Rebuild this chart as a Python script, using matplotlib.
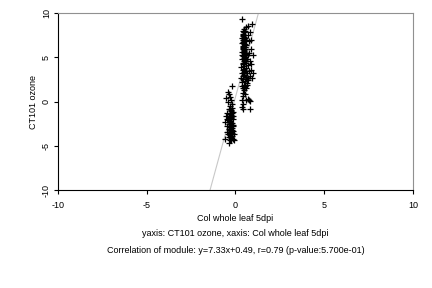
import matplotlib
matplotlib.use("Agg")
import matplotlib.pyplot as plt
import numpy as np

# upper cluster
x_up = [0.40, 0.45, 0.50, 0.55, 0.42, 0.48, 0.38, 0.52, 0.44, 0.58, 0.36, 0.47, 0.53, 0.41, 0.60,
        0.46, 0.35, 0.50, 0.56, 0.39, 0.44, 0.52, 0.62, 0.37, 0.48, 0.57, 0.66, 0.42, 0.50, 0.60,
        0.70, 0.34, 0.45, 0.55, 0.65, 0.75, 0.38, 0.48, 0.58, 0.68, 0.80, 0.33, 0.43, 0.53, 0.63,
        0.73, 0.36, 0.46, 0.56, 0.66, 0.40, 0.50, 0.60, 0.45, 0.35, 0.55, 0.40, 0.62, 0.70, 0.78,
        0.82, 0.36, 0.42, 0.37, 0.45, 0.82,
        0.38, 0.60, 0.68, 0.95, 0.82, 0.70, 0.75, 0.90, 0.85, 1.00, 0.75, 0.90, 1.00, 0.92, 0.85,
        0.72, 0.80, 0.50, 0.42, 0.55, 0.47, 0.43, 0.51, 0.49, 0.41, 0.54,
        0.44, 0.49, 0.52, 0.46, 0.43, 0.50, 0.47, 0.53, 0.45, 0.48, 0.51, 0.44, 0.58, 0.62, 0.55]
y_up = [7.6, 7.4, 7.8, 7.2, 7.0, 6.8, 6.6, 6.5, 6.3, 6.9, 7.2, 7.9, 6.1, 6.0, 6.4,
        5.8, 5.6, 5.5, 5.9, 5.3, 5.1, 5.0, 5.4, 4.8, 4.6, 4.4, 4.8, 4.2, 4.0, 3.8,
        4.1, 3.9, 3.6, 3.4, 3.2, 3.5, 3.2, 3.0, 2.8, 2.6, 2.9, 2.7, 2.5, 2.3, 2.1,
        2.4, 2.2, 1.9, 1.7, 1.9, 1.5, 1.3, 1.5, 1.0, 1.7, 0.9, 0.6, 0.2, 0.3, 0.2,
        0.1, 0.2, -0.3, -0.6, -0.8, -0.9,
        9.3, 8.4, 8.5, 8.7, 7.9, 7.5, 6.8, 6.9, 5.9, 5.3, 5.5, 4.2, 3.2, 2.7, 3.6,
        5.2, 4.6, 8.2, 8.0, 8.0, 7.1, 6.7, 5.7, 4.9, 5.9, 6.2,
        7.5, 7.3, 6.9, 6.5, 6.1, 5.6, 5.2, 4.7, 4.4, 3.7, 3.3, 2.9, 2.5, 2.8, 1.8]

# lower cluster
x_lo = [-0.20, -0.43, -0.38, -0.54, -0.30, -0.25, -0.40, -0.22, -0.30, -0.18, -0.35, -0.25,
        -0.15, -0.45, -0.30, -0.20, -0.55, -0.35, -0.25, -0.15, -0.40, -0.30, -0.20, -0.60,
        -0.35, -0.25, -0.12, -0.45, -0.30, -0.20, -0.38, -0.28, -0.15, -0.48, -0.33, -0.22,
        -0.10, -0.40, -0.28, -0.18, -0.35, -0.25, -0.12, -0.60, -0.08, -0.37, -0.30, -0.22,
        -0.28, -0.32, -0.24, -0.16, -0.26, -0.50, -0.14,
        -0.27, -0.23, -0.29, -0.21, -0.26, -0.24, -0.31, -0.19, -0.27, -0.23]
y_lo = [1.8, 1.1, 0.8, 0.4, 0.5, 0.2, -0.1, -0.3, -0.5, -0.7, -0.9, -1.1,
        -1.2, -1.3, -1.4, -1.6, -1.6, -1.8, -1.9, -2.0, -2.1, -2.2, -2.4, -2.3,
        -2.5, -2.6, -2.7, -2.8, -2.9, -3.0, -3.1, -3.2, -3.3, -3.4, -3.5, -3.6,
        -3.7, -3.7, -3.8, -3.9, -4.0, -4.1, -4.2, -4.2, -4.4, -4.7, -4.4, -1.3,
        -0.8, -2.0, -3.4, -2.8, -4.3, -2.0, -1.6,
        -1.0, -1.5, -2.3, -2.7, -3.0, -3.3, -3.6, -3.2, -2.4, -1.8]

slope, intercept = 7.33, 0.49

plt.rcParams['font.family'] = ['Liberation Sans', 'DejaVu Sans']
plt.rcParams['axes.unicode_minus'] = False
fig = plt.figure(figsize=(4.32, 2.88), dpi=100)
ax = fig.add_axes([0.134, 0.34, 0.822, 0.615])

xs = np.array([-10, 10])
ax.plot(xs, slope * xs + intercept, color='#c8c8c8', lw=0.8, zorder=1)
ax.plot(x_up + x_lo, y_up + y_lo, ls='none', marker='+', color='black',
        markersize=4.5, markeredgewidth=0.9, zorder=2)

ax.set_xlim(-10, 10)
ax.set_ylim(-10, 10)
ax.set_xticks([-10, -5, 0, 5, 10])
ax.set_yticks([-10, -5, 0, 5, 10])
for s in ['top', 'right']:
    ax.spines[s].set_color('#909090')
for s in ['left', 'bottom']:
    ax.spines[s].set_color('black')
for s in ax.spines.values():
    s.set_linewidth(0.8)
ax.tick_params(length=3, width=0.8, labelsize=6.5)
ax.tick_params(axis='x', pad=5)
ax.tick_params(axis='y', pad=2)
plt.setp(ax.get_yticklabels(), rotation=90, va='center')
ax.set_ylabel('CT101 ozone', fontsize=6.5, labelpad=3)
ax.set_xlabel('Col whole leaf 5dpi', fontsize=6.5, labelpad=3)

fig.text(0.545, 0.19, 'yaxis: CT101 ozone, xaxis: Col whole leaf 5dpi',
         ha='center', va='center', fontsize=6.5)
fig.text(0.545, 0.13, 'Correlation of module: y=7.33x+0.49, r=0.79 (p-value:5.700e-01)',
         ha='center', va='center', fontsize=6.5)

fig.savefig('out.png', dpi=100)
